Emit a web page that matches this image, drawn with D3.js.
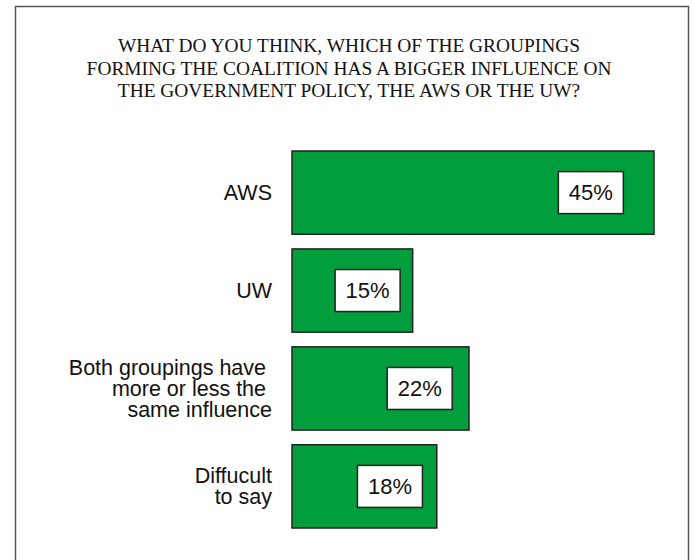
<!DOCTYPE html>
<html lang="en">
<head>
    <meta charset="UTF-8">
    <title>AWS or UW</title>
    <style>
        body {
            margin: 0;
            padding: 0;
            background-color: #fff;
            overflow: hidden;
        }
    </style>
</head>
<body>
    <div id="chart"></div>

    <script src="https://d3js.org/d3.v7.min.js"></script>
    <script>
        // survey answers, in percent
        const categories = ["AWS", "UW", "Both", "Difficult"];
        const categoryLines = [
            ["AWS"],
            ["UW"],
            ["Both groupings have ", "more or less the ", "same influence"],
            ["Diffucult", "to say"]
        ];
        const values = [45, 15, 22, 18];
        const titleLines = [
            "WHAT DO YOU THINK, WHICH OF THE GROUPINGS",
            "FORMING THE COALITION HAS A BIGGER INFLUENCE ON",
            "THE GOVERNMENT POLICY, THE AWS OR THE UW?"
        ];

        const width = 694;
        const height = 560;

        const svg = d3.select('#chart')
            .append('svg')
            .attr('width', width)
            .attr('height', height);

        // outer frame (runs off the bottom edge)
        svg.append('rect')
            .attr('x', 15.5)
            .attr('y', 6.5)
            .attr('width', 673)
            .attr('height', 570)
            .attr('fill', 'none')
            .attr('stroke', '#555')
            .attr('stroke-width', 1.5);

        svg.append('g')
            .selectAll('text')
            .data(titleLines)
            .enter().append('text')
            .attr('x', 349)
            .attr('y', (d, i) => 52 + i * 22.5)
            .attr('text-anchor', 'middle')
            .attr('font-family', '"Liberation Serif", "Times New Roman", serif')
            .attr('font-size', '19.4px')
            .attr('fill', '#111')
            .text(d => d);

        const x = d3.scaleLinear()
            .domain([0, d3.max(values)])
            .range([292, 654]);

        const y = d3.scaleBand()
            .domain(categories)
            .range([151, 528])
            .paddingInner(0.15)
            .paddingOuter(0);

        const rows = categories.map((c, i) => ({ key: c, lines: categoryLines[i], value: values[i] }));

        svg.append('g')
            .selectAll('rect')
            .data(rows)
            .enter().append('rect')
            .attr('x', x(0))
            .attr('y', d => y(d.key))
            .attr('width', d => x(d.value) - x(0))
            .attr('height', y.bandwidth())
            .attr('fill', '#009e3d')
            .attr('stroke', '#222')
            .attr('stroke-width', 1.5);

        // category labels, right aligned left of the bars
        const lh = 20.8;
        const labels = svg.append('g')
            .selectAll('text')
            .data(rows)
            .enter().append('text')
            .attr('text-anchor', 'end')
            .attr('font-family', '"Liberation Sans", Arial, sans-serif')
            .attr('font-size', '21.5px')
            .attr('fill', '#111')
            .style('white-space', 'pre');

        labels.each(function (d) {
            const mid = y(d.key) + y.bandwidth() / 2;
            const first = mid - (d.lines.length - 1) * lh / 2 + 7.5;
            d3.select(this).selectAll('tspan')
                .data(d.lines)
                .enter().append('tspan')
                .attr('x', 272)
                .attr('y', (t, i) => first + i * lh)
                .text(t => t);
        });

        // value boxes, sitting inside the right part of each bar
        const boxW = 65, boxH = 42;
        const boxCx = d => {
            const w = x(d.value) - x(0);
            return x(d.value) - 36 - 0.075 * w;
        };

        const boxes = svg.append('g')
            .selectAll('g')
            .data(rows)
            .enter().append('g');

        boxes.append('rect')
            .attr('x', d => boxCx(d) - boxW / 2)
            .attr('y', d => y(d.key) + y.bandwidth() / 2 - boxH / 2)
            .attr('width', boxW)
            .attr('height', boxH)
            .attr('fill', '#fff')
            .attr('stroke', '#222')
            .attr('stroke-width', 1.5);

        boxes.append('text')
            .attr('x', d => boxCx(d))
            .attr('y', d => y(d.key) + y.bandwidth() / 2 + 7.8)
            .attr('text-anchor', 'middle')
            .attr('font-family', '"Liberation Sans", Arial, sans-serif')
            .attr('font-size', '22px')
            .attr('fill', '#111')
            .text(d => d.value + '%');
    </script>
</body>
</html>
